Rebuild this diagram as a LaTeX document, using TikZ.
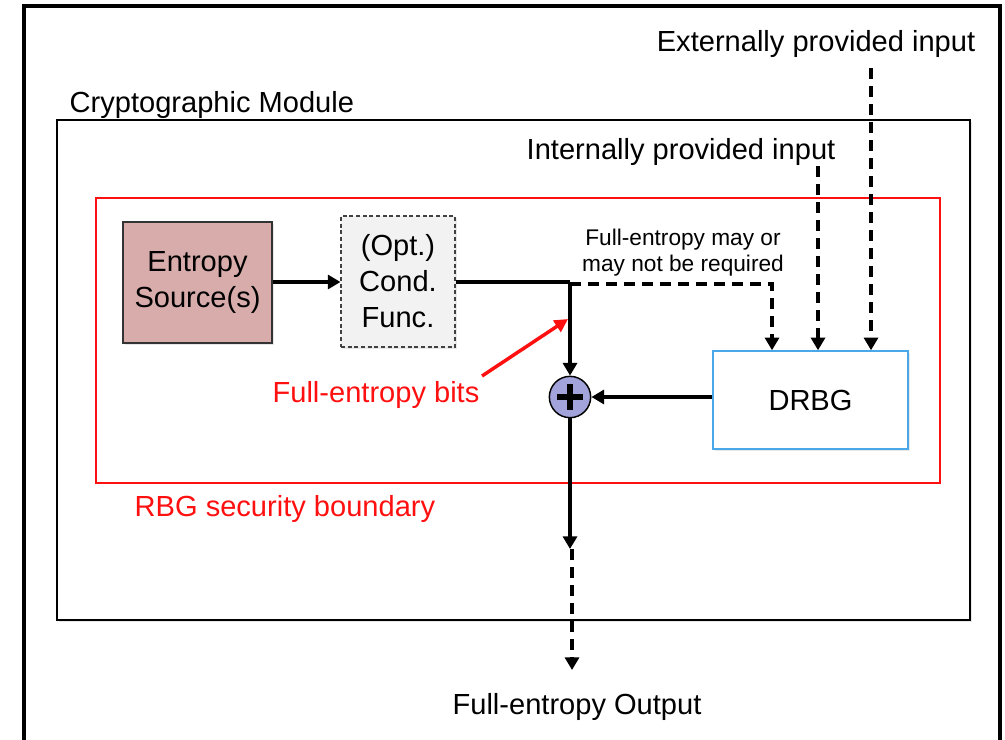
\documentclass[tikz,border=0pt]{standalone}
\usepackage{fontspec}
\setmainfont{Liberation Sans}
\usetikzlibrary{arrows.meta,shadows}

\definecolor{srcfill}{HTML}{D8ACAB}
\definecolor{condfill}{HTML}{F2F2F2}
\definecolor{drbgblue}{HTML}{4AA8E8}
\definecolor{xorfill}{HTML}{A3A3DB}
\definecolor{rbgred}{HTML}{FF1010}

\tikzset{
  bigtext/.style={font=\fontsize{21.8}{27}\selectfont},
  smalltext/.style={font=\fontsize{17}{19.5}\selectfont},
  softshadow/.style={drop shadow={opacity=0.18,shadow xshift=1.2pt,shadow yshift=-1.2pt}},
  srcbox/.style={draw=black!80,line width=1.1pt,fill=srcfill,align=center,bigtext,inner sep=0pt,softshadow},
  condbox/.style={draw=black!75,line width=0.8pt,dash pattern=on 3pt off 2pt,fill=condfill,align=center,bigtext,inner sep=0pt,softshadow},
  drbgbox/.style={draw=drbgblue,line width=1.1pt,fill=white,bigtext,inner sep=0pt,softshadow},
  xorcirc/.style={circle,draw=black,line width=1.1pt,fill=xorfill,minimum size=31pt,inner sep=0pt},
  flow/.style={line width=2.6pt,-{Triangle[length=9.5pt,width=10.5pt]}},
  flowline/.style={line width=2.6pt},
  dashedflow/.style={flow,dash pattern=on 8pt off 5.5pt},
  pointer/.style={line width=2.6pt,draw=rbgred,-{Triangle[length=10pt,width=10pt]}},
}

\begin{document}
\begin{tikzpicture}[x=0.75pt,y=-0.75pt]
  \useasboundingbox (0,0) rectangle (1005,739);

  % outer frame (bottom edge lies below the page)
  \draw[line width=3pt] (24,760) -- (24,6) -- (1000,6) -- (1000,760);

  % cryptographic module
  \node[draw=black,line width=1.1pt,fill=white,minimum width=684.75pt,minimum height=375pt,softshadow] (module) at (513.5,370) {};
  \node[bigtext,anchor=west] (modlabel) at (65,105) {Cryptographic Module};

  % RBG security boundary
  \node[draw=rbgred,line width=0.8pt,minimum width=633pt,minimum height=213.75pt] (rbg) at (518,340.5) {};
  \node[bigtext,text=rbgred,anchor=west] (rbglabel) at (130,509) {RBG security boundary};

  % components
  \node[srcbox,minimum width=111.75pt,minimum height=90.75pt] (src) at (197.5,282.5) {Entropy\\Source(s)};
  \node[condbox,minimum width=85.5pt,minimum height=98.25pt] (cond) at (398,281.5) {(Opt.)\\Cond.\\Func.};
  \node[drbgbox,minimum width=146.25pt,minimum height=73.5pt] (drbg) at (810.5,400) {DRBG};
  \node[xorcirc] (xor) at (570,397) {};
  \draw[line width=3.8pt] ([xshift=-9.5pt]xor.center) -- ([xshift=9.5pt]xor.center)
                          ([yshift=-9.5pt]xor.center) -- ([yshift=9.5pt]xor.center);

  % routing points
  \coordinate (junc) at (570,282);
  \coordinate (bend) at (772,284);
  \coordinate (intsrc) at (818,166);
  \coordinate (extsrc) at (871,68);
  \coordinate (outmid) at (570,549);
  \coordinate (outend) at (572,670);

  % text labels
  \node[bigtext] (extlabel) at (816,44) {Externally provided input};
  \node[bigtext] (intlabel) at (681,152) {Internally provided input};
  \node[smalltext,align=center] (optlabel) at (683,253) {Full-entropy may or\\may not be required};
  \node[bigtext,text=rbgred] (bitslabel) at (376,395) {Full-entropy bits};
  \node[bigtext] (outlabel) at (577,707) {Full-entropy Output};

  % data flow
  \draw[flow] (src.east |- junc) -- (cond.west |- junc);
  \draw[flowline] (cond.east |- junc) -- (junc);
  \draw[flow] (junc) -- (xor.north);
  \draw[dashedflow] ([yshift=-1.5pt]junc) -- (bend) -- (bend |- drbg.north);
  \draw[dashedflow] (intsrc) -- (intsrc |- drbg.north);
  \draw[dashedflow] (extsrc) -- (extsrc |- drbg.north);
  \draw[flow] (drbg.west |- xor) -- (xor.east);
  \draw[flow] (xor.south) -- (outmid);
  \draw[dashedflow] ([xshift=1.5pt]outmid) -- (outend);

  % pointer to the full-entropy bits
  \coordinate (tip) at (568,319);
  \draw[pointer] (482,376) -- (tip);
\end{tikzpicture}
\end{document}
